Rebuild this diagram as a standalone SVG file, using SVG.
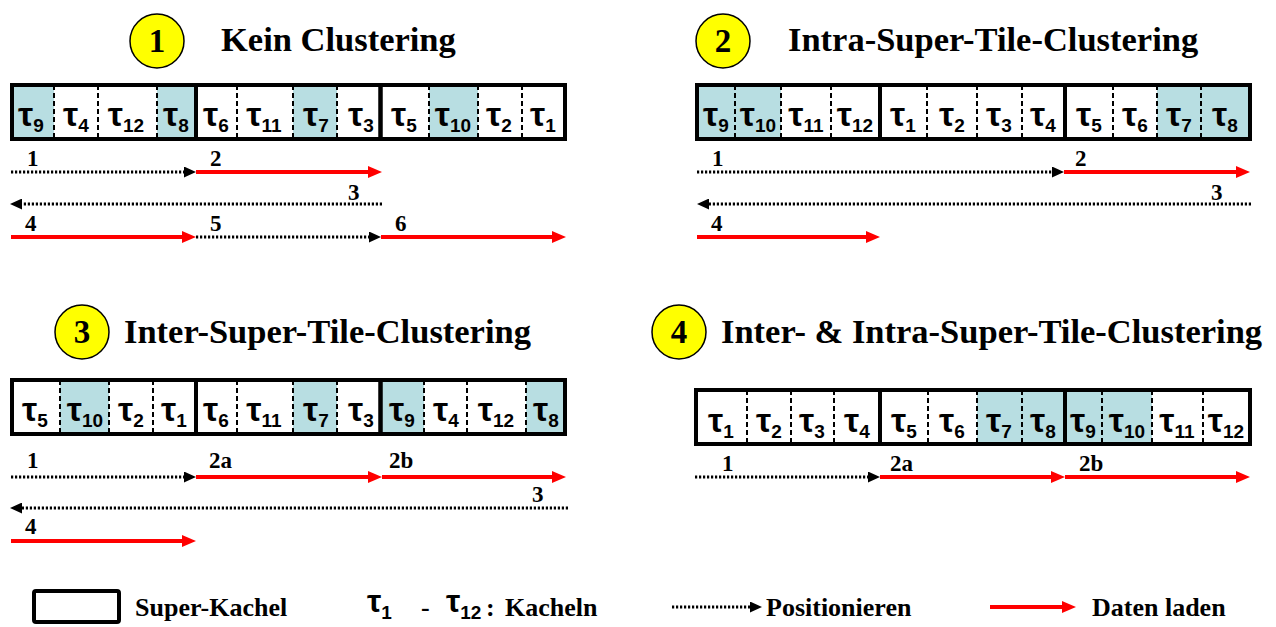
<svg xmlns="http://www.w3.org/2000/svg" width="1276" height="627" viewBox="0 0 1276 627">
  <style>
    .title { font-family: "Liberation Serif", "Times New Roman", serif; font-weight: bold; font-size: 34.5px; fill: #000; }
    .badge { fill: #FFFF00; stroke: #000; stroke-width: 1.5; }
    .badge-num { font-family: "Liberation Serif", "Times New Roman", serif; font-weight: bold; font-size: 33px; text-anchor: middle; fill: #000; }
    .super { fill: none; stroke: #000; stroke-width: 4; }
    .hi { fill: #B8DEE2; stroke: none; }
    .tile-sep { stroke: #000; stroke-width: 2; stroke-dasharray: 5 3; }
    .tau { font-family: "Liberation Sans", Arial, sans-serif; font-weight: bold; font-size: 34px; text-anchor: middle; fill: #000; }
    .sub { font-size: 19px; font-weight: bold; }
    .step { font-family: "Liberation Serif", "Times New Roman", serif; font-weight: bold; font-size: 23px; fill: #000; }
    .pos { fill: none; stroke: #000; stroke-width: 3.2; stroke-dasharray: 2.2 1.8; marker-end: url(#headBlack); }
    .load { fill: none; stroke: #FF0000; stroke-width: 4; marker-end: url(#headRed); }
    .legend { font-family: "Liberation Serif", "Times New Roman", serif; font-weight: bold; font-size: 26px; fill: #000; }
    .legend-tau { font-family: "Liberation Sans", Arial, sans-serif; font-weight: bold; font-size: 32px; fill: #000; }
  </style>
  <defs>
    <marker id="headBlack" markerUnits="userSpaceOnUse" markerWidth="12" markerHeight="11" viewBox="0 0 12 11" refX="0" refY="5.5" orient="auto">
      <path d="M0,0 L12,5.5 L0,11 Z" fill="#000"/>
    </marker>
    <marker id="headRed" markerUnits="userSpaceOnUse" markerWidth="14" markerHeight="12" viewBox="0 0 14 12" refX="0" refY="6" orient="auto">
      <path d="M0,0 L14,6 L0,12 Z" fill="#FF0000"/>
    </marker>
  </defs>

  <rect width="1276" height="627" fill="#fff"/>

  <!-- Panel 1: no clustering -->
  <g id="panel1">
    <circle class="badge" cx="157" cy="41" r="27"/>
    <text class="badge-num" x="157" y="52">1</text>
    <text class="title" x="221" y="51">Kein Clustering</text>
    <rect class="hi" x="12" y="85" width="42" height="54"/>
    <rect class="hi" x="157" y="85" width="39" height="54"/>
    <rect class="hi" x="293" y="85" width="44" height="54"/>
    <rect class="hi" x="429" y="85" width="49" height="54"/>
    <g class="tile-sep">
      <line x1="54" y1="85" x2="54" y2="139"/><line x1="98" y1="85" x2="98" y2="139"/><line x1="157" y1="85" x2="157" y2="139"/>
      <line x1="237" y1="85" x2="237" y2="139"/><line x1="293" y1="85" x2="293" y2="139"/><line x1="337" y1="85" x2="337" y2="139"/>
      <line x1="429" y1="85" x2="429" y2="139"/><line x1="478" y1="85" x2="478" y2="139"/><line x1="522" y1="85" x2="522" y2="139"/>
    </g>
    <rect class="super" x="12" y="85" width="184" height="54"/>
    <rect class="super" x="196" y="85" width="184.5" height="54"/>
    <rect class="super" x="380.5" y="85" width="184.5" height="54"/>
    <text class="tau" x="31" y="126">τ<tspan class="sub" dy="6">9</tspan></text>
    <text class="tau" x="76" y="126">τ<tspan class="sub" dy="6">4</tspan></text>
    <text class="tau" x="126" y="126">τ<tspan class="sub" dy="6">12</tspan></text>
    <text class="tau" x="176" y="126">τ<tspan class="sub" dy="6">8</tspan></text>
    <text class="tau" x="216" y="126">τ<tspan class="sub" dy="6">6</tspan></text>
    <text class="tau" x="264" y="126">τ<tspan class="sub" dy="6">11</tspan></text>
    <text class="tau" x="316" y="126">τ<tspan class="sub" dy="6">7</tspan></text>
    <text class="tau" x="361" y="126">τ<tspan class="sub" dy="6">3</tspan></text>
    <text class="tau" x="404" y="126">τ<tspan class="sub" dy="6">5</tspan></text>
    <text class="tau" x="453" y="126">τ<tspan class="sub" dy="6">10</tspan></text>
    <text class="tau" x="499" y="126">τ<tspan class="sub" dy="6">2</tspan></text>
    <text class="tau" x="543" y="126">τ<tspan class="sub" dy="6">1</tspan></text>
  </g>

  <!-- Panel 2: intra-super-tile clustering -->
  <g id="panel2">
    <circle class="badge" cx="723" cy="41" r="27"/>
    <text class="badge-num" x="723" y="52">2</text>
    <text class="title" x="788" y="51">Intra-Super-Tile-Clustering</text>
    <rect class="hi" x="697" y="85" width="84" height="54"/>
    <rect class="hi" x="1157" y="85" width="93" height="54"/>
    <g class="tile-sep">
      <line x1="735" y1="85" x2="735" y2="139"/><line x1="781" y1="85" x2="781" y2="139"/><line x1="831" y1="85" x2="831" y2="139"/>
      <line x1="927" y1="85" x2="927" y2="139"/><line x1="977" y1="85" x2="977" y2="139"/><line x1="1022" y1="85" x2="1022" y2="139"/>
      <line x1="1113" y1="85" x2="1113" y2="139"/><line x1="1157" y1="85" x2="1157" y2="139"/><line x1="1201" y1="85" x2="1201" y2="139"/>
    </g>
    <rect class="super" x="697" y="85" width="183" height="54"/>
    <rect class="super" x="880" y="85" width="185" height="54"/>
    <rect class="super" x="1065" y="85" width="185" height="54"/>
    <text class="tau" x="716" y="126">τ<tspan class="sub" dy="6">9</tspan></text>
    <text class="tau" x="758" y="126">τ<tspan class="sub" dy="6">10</tspan></text>
    <text class="tau" x="806" y="126">τ<tspan class="sub" dy="6">11</tspan></text>
    <text class="tau" x="855" y="126">τ<tspan class="sub" dy="6">12</tspan></text>
    <text class="tau" x="903" y="126">τ<tspan class="sub" dy="6">1</tspan></text>
    <text class="tau" x="952" y="126">τ<tspan class="sub" dy="6">2</tspan></text>
    <text class="tau" x="999" y="126">τ<tspan class="sub" dy="6">3</tspan></text>
    <text class="tau" x="1043" y="126">τ<tspan class="sub" dy="6">4</tspan></text>
    <text class="tau" x="1089" y="126">τ<tspan class="sub" dy="6">5</tspan></text>
    <text class="tau" x="1135" y="126">τ<tspan class="sub" dy="6">6</tspan></text>
    <text class="tau" x="1179" y="126">τ<tspan class="sub" dy="6">7</tspan></text>
    <text class="tau" x="1225" y="126">τ<tspan class="sub" dy="6">8</tspan></text>
  </g>

  <!-- Panel 3: inter-super-tile clustering -->
  <g id="panel3">
    <circle class="badge" cx="82" cy="332" r="27"/>
    <text class="badge-num" x="82" y="343">3</text>
    <text class="title" x="124" y="343">Inter-Super-Tile-Clustering</text>
    <rect class="hi" x="60" y="380" width="49" height="54"/>
    <rect class="hi" x="293" y="380" width="44" height="54"/>
    <rect class="hi" x="380.5" y="380" width="43.5" height="54"/>
    <rect class="hi" x="526" y="380" width="39" height="54"/>
    <g class="tile-sep">
      <line x1="60" y1="380" x2="60" y2="434"/><line x1="109" y1="380" x2="109" y2="434"/><line x1="153" y1="380" x2="153" y2="434"/>
      <line x1="237" y1="380" x2="237" y2="434"/><line x1="293" y1="380" x2="293" y2="434"/><line x1="337" y1="380" x2="337" y2="434"/>
      <line x1="424" y1="380" x2="424" y2="434"/><line x1="467" y1="380" x2="467" y2="434"/><line x1="526" y1="380" x2="526" y2="434"/>
    </g>
    <rect class="super" x="12" y="380" width="184" height="54"/>
    <rect class="super" x="196" y="380" width="184.5" height="54"/>
    <rect class="super" x="380.5" y="380" width="184.5" height="54"/>
    <text class="tau" x="35" y="421">τ<tspan class="sub" dy="6">5</tspan></text>
    <text class="tau" x="85" y="421">τ<tspan class="sub" dy="6">10</tspan></text>
    <text class="tau" x="131" y="421">τ<tspan class="sub" dy="6">2</tspan></text>
    <text class="tau" x="174" y="421">τ<tspan class="sub" dy="6">1</tspan></text>
    <text class="tau" x="216" y="421">τ<tspan class="sub" dy="6">6</tspan></text>
    <text class="tau" x="264" y="421">τ<tspan class="sub" dy="6">11</tspan></text>
    <text class="tau" x="316" y="421">τ<tspan class="sub" dy="6">7</tspan></text>
    <text class="tau" x="361" y="421">τ<tspan class="sub" dy="6">3</tspan></text>
    <text class="tau" x="402" y="421">τ<tspan class="sub" dy="6">9</tspan></text>
    <text class="tau" x="446" y="421">τ<tspan class="sub" dy="6">4</tspan></text>
    <text class="tau" x="496" y="421">τ<tspan class="sub" dy="6">12</tspan></text>
    <text class="tau" x="546" y="421">τ<tspan class="sub" dy="6">8</tspan></text>
  </g>

  <!-- Panel 4: inter- and intra-super-tile clustering -->
  <g id="panel4">
    <circle class="badge" cx="679" cy="332" r="27"/>
    <text class="badge-num" x="679" y="343">4</text>
    <text class="title" x="721" y="343">Inter- &amp; Intra-Super-Tile-Clustering</text>
    <rect class="hi" x="977" y="390" width="88" height="54"/>
    <rect class="hi" x="1065" y="390" width="87" height="54"/>
    <g class="tile-sep">
      <line x1="747" y1="390" x2="747" y2="444"/><line x1="791" y1="390" x2="791" y2="444"/><line x1="834" y1="390" x2="834" y2="444"/>
      <line x1="928" y1="390" x2="928" y2="444"/><line x1="977" y1="390" x2="977" y2="444"/><line x1="1022" y1="390" x2="1022" y2="444"/>
      <line x1="1102" y1="390" x2="1102" y2="444"/><line x1="1152" y1="390" x2="1152" y2="444"/><line x1="1203" y1="390" x2="1203" y2="444"/>
    </g>
    <rect class="super" x="696" y="390" width="184" height="54"/>
    <rect class="super" x="880" y="390" width="185" height="54"/>
    <rect class="super" x="1065" y="390" width="185" height="54"/>
    <text class="tau" x="721" y="432">τ<tspan class="sub" dy="6">1</tspan></text>
    <text class="tau" x="769" y="432">τ<tspan class="sub" dy="6">2</tspan></text>
    <text class="tau" x="812" y="432">τ<tspan class="sub" dy="6">3</tspan></text>
    <text class="tau" x="857" y="432">τ<tspan class="sub" dy="6">4</tspan></text>
    <text class="tau" x="904" y="432">τ<tspan class="sub" dy="6">5</tspan></text>
    <text class="tau" x="952" y="432">τ<tspan class="sub" dy="6">6</tspan></text>
    <text class="tau" x="999" y="432">τ<tspan class="sub" dy="6">7</tspan></text>
    <text class="tau" x="1043" y="432">τ<tspan class="sub" dy="6">8</tspan></text>
    <text class="tau" x="1083" y="432">τ<tspan class="sub" dy="6">9</tspan></text>
    <text class="tau" x="1127" y="432">τ<tspan class="sub" dy="6">10</tspan></text>
    <text class="tau" x="1177" y="432">τ<tspan class="sub" dy="6">11</tspan></text>
    <text class="tau" x="1226" y="432">τ<tspan class="sub" dy="6">12</tspan></text>
  </g>

  <!-- Head movements and data transfers -->
  <g id="connectors">
    <!-- panel 1 -->
    <line class="pos" x1="11" y1="172" x2="184" y2="172"/>
    <line class="load" x1="196" y1="172" x2="368" y2="172"/>
    <line class="pos" x1="382" y1="204" x2="22" y2="204"/>
    <line class="load" x1="11" y1="237" x2="182" y2="237"/>
    <line class="pos" x1="196" y1="237" x2="369" y2="237"/>
    <line class="load" x1="381" y1="237" x2="552" y2="237"/>
    <!-- panel 2 -->
    <line class="pos" x1="697" y1="172" x2="1052" y2="172"/>
    <line class="load" x1="1064" y1="172" x2="1236" y2="172"/>
    <line class="pos" x1="1251" y1="204" x2="709" y2="204"/>
    <line class="load" x1="697" y1="237" x2="866" y2="237"/>
    <!-- panel 3 -->
    <line class="pos" x1="11" y1="477" x2="184" y2="477"/>
    <line class="load" x1="196" y1="477" x2="368" y2="477"/>
    <line class="load" x1="382" y1="477" x2="552" y2="477"/>
    <line class="pos" x1="568" y1="508" x2="22" y2="508"/>
    <line class="load" x1="11" y1="541" x2="182" y2="541"/>
    <!-- panel 4 -->
    <line class="pos" x1="695" y1="477" x2="868" y2="477"/>
    <line class="load" x1="880" y1="477" x2="1051" y2="477"/>
    <line class="load" x1="1065" y1="477" x2="1236" y2="477"/>

    <!-- step numbers -->
    <text class="step" x="27" y="166">1</text>
    <text class="step" x="210" y="166">2</text>
    <text class="step" x="348" y="200">3</text>
    <text class="step" x="25" y="231">4</text>
    <text class="step" x="210" y="231">5</text>
    <text class="step" x="395" y="231">6</text>

    <text class="step" x="712" y="166">1</text>
    <text class="step" x="1075" y="166">2</text>
    <text class="step" x="1211" y="200">3</text>
    <text class="step" x="711" y="231">4</text>

    <text class="step" x="27" y="468">1</text>
    <text class="step" x="209" y="468">2a</text>
    <text class="step" x="389" y="468">2b</text>
    <text class="step" x="532" y="502">3</text>
    <text class="step" x="25" y="534">4</text>

    <text class="step" x="722" y="471">1</text>
    <text class="step" x="890" y="471">2a</text>
    <text class="step" x="1079" y="471">2b</text>
  </g>

  <!-- Legend -->
  <g id="legend">
    <rect x="34" y="591" width="85" height="31" rx="2" fill="none" stroke="#000" stroke-width="4"/>
    <text class="legend" x="135" y="616">Super-Kachel</text>
    <text class="legend-tau" x="367" y="612">τ<tspan class="sub" dy="7">1</tspan></text>
    <text class="legend" x="421" y="616">-</text>
    <text class="legend-tau" x="446" y="612">τ<tspan class="sub" dy="7">12</tspan></text>
    <text class="legend" x="486" y="616">:</text>
    <text class="legend" x="505" y="616">Kacheln</text>
    <line class="pos" x1="672" y1="607" x2="750" y2="607"/>
    <text class="legend" x="766" y="616">Positionieren</text>
    <line class="load" x1="990" y1="607" x2="1062" y2="607"/>
    <text class="legend" x="1092" y="616">Daten laden</text>
  </g>
</svg>
